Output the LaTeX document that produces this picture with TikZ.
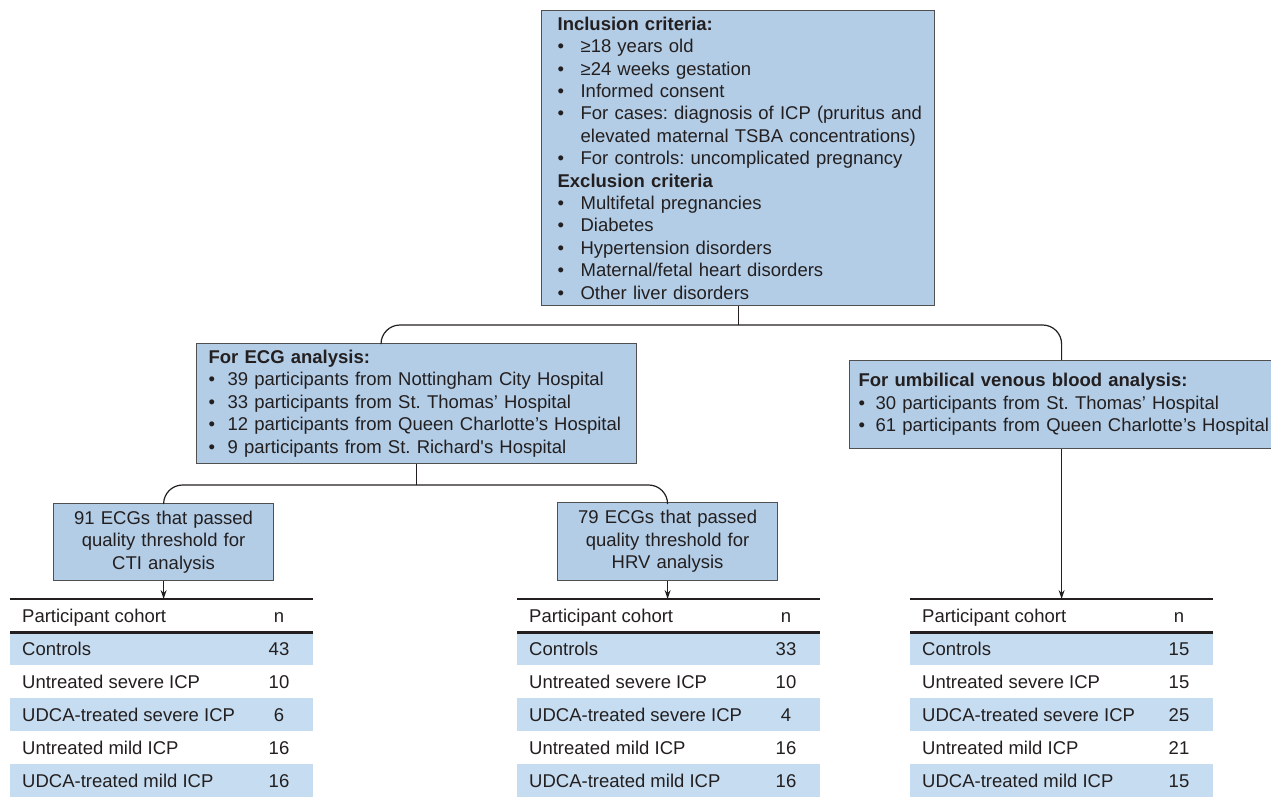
\documentclass[tikz,border=0pt]{standalone}
\usepackage{fontspec}
\setmainfont{Liberation Sans}
\usetikzlibrary{arrows.meta,calc}
\definecolor{boxblue}{HTML}{B3CDE6}
\definecolor{rowblue}{HTML}{C6DCF0}
\definecolor{txt}{HTML}{231F20}
\definecolor{edgegray}{HTML}{505050}
\newcommand\bu[1]{\makebox[#1][l]{\textbullet}}
\frenchspacing
\hbadness=10000 \hfuzz=50pt
\begin{document}
\begin{tikzpicture}[x=1pt,y=-1pt,
  every node/.style={text=txt, font=\fontsize{18.5}{22.4}\selectfont},
  box/.style={draw=edgegray, line width=1.2pt, fill=boxblue, anchor=north west, inner ysep=0pt},
  conn/.style={draw=txt, line width=1.2pt},
  arr/.style={conn, -{Stealth[length=9pt,width=6pt]}},
  rowb/.style={fill=rowblue, anchor=north west, minimum width=303pt, minimum height=33pt, inner sep=0pt},
  roww/.style={anchor=north west, minimum width=303pt, minimum height=33pt, inner sep=0pt},
  tabrule/.style={draw=txt, line width=2.4pt},
  cell/.style={anchor=base west, inner sep=0pt},
  num/.style={anchor=base, inner sep=0pt}
]
\clip (0,0) rectangle (1271,797);
\fill[white] (0,0) rectangle (1271,797);

% top box
\node[box, inner xsep=16pt, text width=361pt, minimum height=295pt, align=left] (top) at (541,10) {%
\mbox{\textbf{Inclusion criteria:}}\\
\mbox{\bu{23pt}≥18 years old}\\
\mbox{\bu{23pt}≥24 weeks gestation}\\
\mbox{\bu{23pt}Informed consent}\\
\mbox{\bu{23pt}For cases: diagnosis of ICP (pruritus and}\\
\mbox{\hspace*{23pt}elevated maternal TSBA concentrations)}\\
\mbox{\bu{23pt}For controls: uncomplicated pregnancy}\\
\mbox{\textbf{Exclusion criteria}}\\
\mbox{\bu{23pt}Multifetal pregnancies}\\
\mbox{\bu{23pt}Diabetes}\\
\mbox{\bu{23pt}Hypertension disorders}\\
\mbox{\bu{23pt}Maternal/fetal heart disorders}\\
\mbox{\bu{23pt}Other liver disorders}};

% ECG box
\node[box, inner xsep=12pt, text width=416pt, minimum height=120pt, align=left] (ecg) at (196,343) {%
\mbox{\textbf{For ECG analysis:}}\\
\mbox{\bu{19pt}39 participants from Nottingham City Hospital}\\
\mbox{\bu{19pt}33 participants from St. Thomas’ Hospital}\\
\mbox{\bu{19pt}12 participants from Queen Charlotte’s Hospital}\\
\mbox{\bu{19pt}9 participants from St. Richard\textquotesingle s Hospital}};

% umbilical box
\node[box, inner xsep=9pt, text width=406pt, minimum height=88pt, align=left] (ub) at (849,360) {%
\mbox{\textbf{For umbilical venous blood analysis:}}\\
\mbox{\bu{17pt}30 participants from St. Thomas’ Hospital}\\
\mbox{\bu{17pt}61 participants from Queen Charlotte’s Hospital}};

% CTI and HRV boxes
\node[box, inner xsep=6pt, text width=208pt, minimum height=77pt, align=center] (cti) at (53,503) {91 ECGs that passed\\quality threshold for\\CTI analysis};
\node[box, inner xsep=6pt, text width=208pt, minimum height=78pt, align=center] (hrv) at (557,502) {79 ECGs that passed\\quality threshold for\\HRV analysis};

% junctions
\coordinate (j1) at (top.south |- 0,325);
\coordinate (j2) at (ecg.south |- 0,485);
\draw[conn] (top.south) -- (j1);
\draw[conn, rounded corners=19pt] (ecg.north -| 381,0) |- (j1) -| (ub.north);
\draw[conn] (ecg.south) -- (j2);
\draw[conn, rounded corners=19pt] (cti.north) |- (j2) -| (hrv.north);

% tables
\foreach \k/\L/\a/\b/\c/\d/\e in {1/10/43/10/6/16/16, 2/517/33/10/4/16/16, 3/910/15/15/25/21/15}{
  \node[roww] (t\k h) at (\L,599) {};
  \node[rowb] (t\k r1) at (\L,632) {};
  \node[roww] (t\k r2) at (\L,665) {};
  \node[rowb] (t\k r3) at (\L,698) {};
  \node[roww] (t\k r4) at (\L,731) {};
  \node[rowb] (t\k r5) at (\L,764) {};
  \draw[tabrule] (t\k h.north west) -- (t\k h.north east);
  \draw[tabrule] (t\k h.south west) -- (t\k h.south east);
  \node[cell] (t\k ha) at ($(t\k h.west)+(12,6.5)$) {Participant cohort};
  \node[num] (t\k hb) at ($(t\k h.west)+(269,6.5)$) {n};
  \node[cell] (t\k r1a) at ($(t\k r1.west)+(12,6.5)$) {Controls};
  \node[num] (t\k r1b) at ($(t\k r1.west)+(269,6.5)$) {\a};
  \node[cell] (t\k r2a) at ($(t\k r2.west)+(12,6.5)$) {Untreated severe ICP};
  \node[num] (t\k r2b) at ($(t\k r2.west)+(269,6.5)$) {\b};
  \node[cell] (t\k r3a) at ($(t\k r3.west)+(12,6.5)$) {UDCA-treated severe ICP};
  \node[num] (t\k r3b) at ($(t\k r3.west)+(269,6.5)$) {\c};
  \node[cell] (t\k r4a) at ($(t\k r4.west)+(12,6.5)$) {Untreated mild ICP};
  \node[num] (t\k r4b) at ($(t\k r4.west)+(269,6.5)$) {\d};
  \node[cell] (t\k r5a) at ($(t\k r5.west)+(12,6.5)$) {UDCA-treated mild ICP};
  \node[num] (t\k r5b) at ($(t\k r5.west)+(269,6.5)$) {\e};
}

% arrows
\draw[arr] (cti.south) -- (cti.south |- t1h.north);
\draw[arr] (hrv.south) -- (hrv.south |- t2h.north);
\draw[arr] (ub.south) -- (ub.south |- t3h.north);
\end{tikzpicture}
\end{document}
